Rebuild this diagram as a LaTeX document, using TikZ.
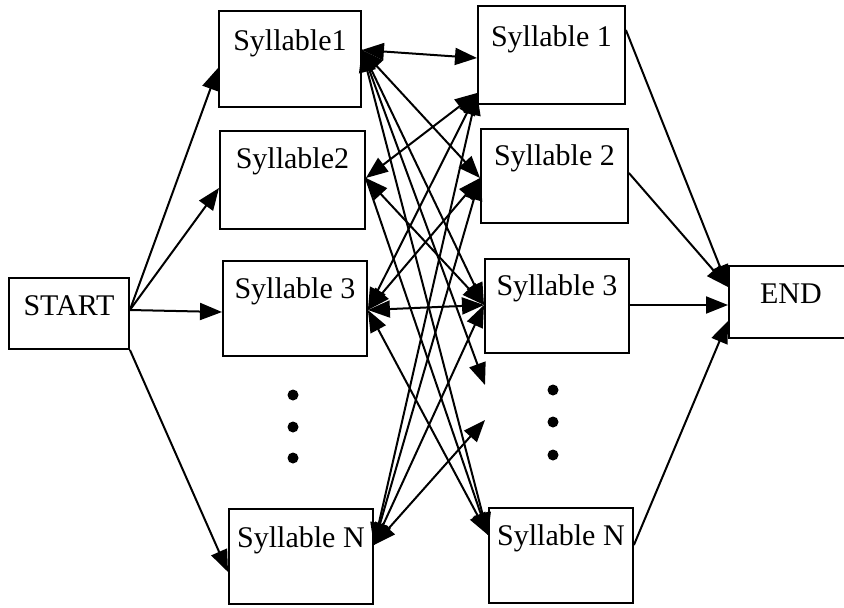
\documentclass[tikz,border=0pt]{standalone}
\usepackage{fontspec}
\setmainfont{Liberation Serif}
\usetikzlibrary{arrows.meta,calc}
\newcommand{\bigfs}{\fontsize{30}{36}\selectfont}
\tikzset{
  box/.style={draw, line width=1.9pt, inner sep=0pt, anchor=north west, font=\bigfs},
  conn/.style={line width=2pt, -{Triangle[length=22pt,width=17pt]}},
  bconn/.style={line width=2pt, {Triangle[length=22pt,width=17pt]}-{Triangle[length=22pt,width=17pt]}},
  dotn/.style={circle, fill=black, inner sep=0pt, minimum size=11pt}
}
\newcommand{\bx}[7]{\node[box, minimum width=#4pt, text height=#6pt, text depth={(#5-#6)*1pt}] (#1) at (#2,#3) {#7};}
\begin{document}
\begin{tikzpicture}[x=1pt,y=-1pt]
\useasboundingbox[fill=white] (0,0) rectangle (844,608);
% boxes
\bx{S}{8}{277}{120}{71}{38}{START}
\bx{L1}{218}{10}{142}{96}{40}{Syllable1}
\bx{L2}{219}{130}{145}{98}{38}{Syllable2}
\bx{L3}{222}{260}{144}{95}{38}{Syllable 3}
\bx{LN}{228}{508}{144}{95}{39}{Syllable N}
\bx{R1}{477}{5}{147}{98}{41}{Syllable 1}
\bx{R2}{480}{128}{147}{94}{37}{Syllable 2}
\bx{R3}{484}{258}{144}{94}{37}{Syllable 3}
\bx{RN}{488}{507}{144}{95}{38}{Syllable N}
\bx{E}{728}{265}{124}{72}{38}{END}
% dots
\node[dotn] (ld1) at (293,395) {};
\node[dotn] (ld2) at (293,427) {};
\node[dotn] (ld3) at (293,458) {};
\node[dotn] (rd1) at (553,390) {};
\node[dotn] (rd2) at (553,422) {};
\node[dotn] (rd3) at (553,455) {};
% ports
\coordinate (so) at ($(S.north east)+(0,33)$);
\coordinate (l1in) at ($(L1.north west)+(0,58)$);
\coordinate (l2in) at ($(L2.north west)+(0,58)$);
\coordinate (l3in) at ($(L3.north west)+(0,52)$);
\coordinate (lnin) at ($(LN.north west)+(0,64)$);
\coordinate (l1p) at ($(L1.north east)+(0,40)$);
\coordinate (l2p) at ($(L2.north east)+(0,48)$);
\coordinate (l3p) at ($(L3.north east)+(0,50)$);
\coordinate (lnp) at ($(LN.north east)+(0,37)$);
\coordinate (r1a) at ($(R1.north west)+(0,53)$);
\coordinate (r1b) at ($(R1.north west)+(0,88)$);
\coordinate (r2p) at ($(R2.north west)+(0,50)$);
\coordinate (r3p) at ($(R3.north west)+(0,47)$);
\coordinate (rnp) at ($(RN.north west)+(0,28)$);
\coordinate (d1) at (485,385);
\coordinate (d2) at (485,420);
\coordinate (r1o) at ($(R1.north east)+(0,25)$);
\coordinate (r2o) at ($(R2.north east)+(0,45)$);
\coordinate (r3o) at ($(R3.north east)+(0,47)$);
\coordinate (rno) at ($(RN.north east)+(0,38)$);
\coordinate (e1) at ($(E.north west)+(0,22)$);
\coordinate (e2) at ($(E.north west)+(0,40)$);
\coordinate (e3) at ($(E.north west)+(0,56)$);
% START connectors
\draw[conn] (so) -- (l1in);
\draw[conn] (so) -- (l2in);
\draw[conn] (so) -- (l3in);
\draw[conn] (S.south east) -- (lnin);
% middle connectors
\draw[bconn] (l1p) -- (r1a);
\draw[bconn] (l1p) -- (r2p);
\draw[conn] (l1p) -- (r3p);
\draw[conn] (l1p) -- (d1);
\draw[bconn] (l1p) -- (rnp);
\draw[bconn] (l2p) -- (r1b);
\draw[bconn] (l2p) -- (r3p);
\draw[conn] (l2p) -- (rnp);
\draw[bconn] (l3p) -- (r1b);
\draw[bconn] (l3p) -- (r2p);
\draw[bconn] (l3p) -- (r3p);
\draw[bconn] (l3p) -- (rnp);
\draw[bconn] (lnp) -- (r1b);
\draw[bconn] (lnp) -- (r2p);
\draw[bconn] (lnp) -- (r3p);
\draw[bconn] (lnp) -- (d2);
% END connectors
\draw[conn] (r1o) -- (e1);
\draw[conn] (r2o) -- (e1);
\draw[conn] (r3o) -- (e2);
\draw[conn] (rno) -- (e3);
\end{tikzpicture}
\end{document}
